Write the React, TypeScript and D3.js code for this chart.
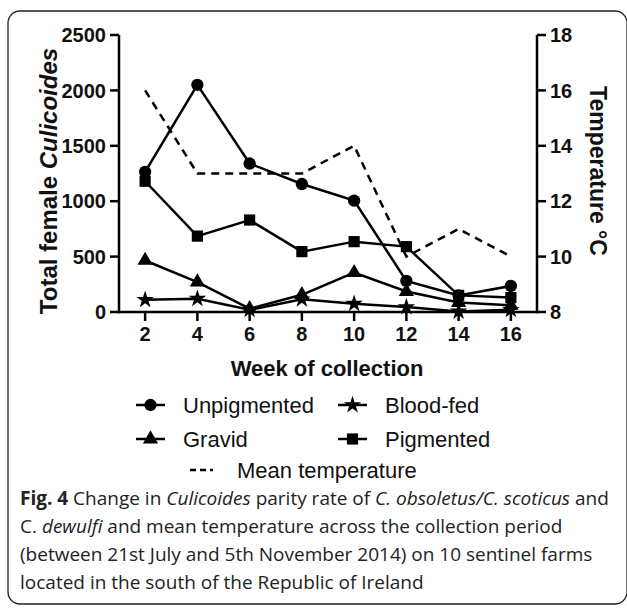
import React from "react";
import * as d3 from "d3";

const weeks = [2, 4, 6, 8, 10, 12, 14, 16];
const unpigmented = [1265, 2050, 1340, 1155, 1005, 280, 150, 235];
const pigmented = [1180, 685, 830, 545, 635, 590, 150, 130];
const gravid = [465, 270, 30, 155, 355, 185, 85, 60];
const bloodFed = [110, 120, 20, 115, 75, 45, 5, 20];
const meanTemp = [16, 13, 13, 13, 14, 10, 11, 10];
const leftTicks = [0, 500, 1000, 1500, 2000, 2500];
const rightTicks = [8, 10, 12, 14, 16, 18];

const W = 627;
const H = 611;
const FONT = "'Liberation Sans', Arial, Helvetica, sans-serif";

export default function App() {
  const x = d3.scaleLinear().domain([1, 17]).range([119, 537]);
  const y = d3.scaleLinear().domain([0, 2500]).range([312, 35]);
  const yT = d3.scaleLinear().domain([8, 18]).range([312, 35]);

  const line = d3
    .line<[number, number]>()
    .x((d) => x(d[0]))
    .y((d) => y(d[1]));
  const tline = d3
    .line<[number, number]>()
    .x((d) => x(d[0]))
    .y((d) => yT(d[1]));

  const zip = (v: number[]) => weeks.map((w, i) => [w, v[i]] as [number, number]);

  const circle = d3.symbol(d3.symbolCircle, 120)()!;
  const square = d3.symbol(d3.symbolSquare, 125)()!;
  const triangle = d3.symbol(d3.symbolTriangle, 100)()!;
  const star = d3.symbol(d3.symbolStar, 95)()!;

  const series = [
    { vals: bloodFed, sym: star },
    { vals: gravid, sym: triangle },
    { vals: pigmented, sym: square },
    { vals: unpigmented, sym: circle },
  ];

  const legend = [
    { label: "Unpigmented", sym: circle, lx: 136, ly: 405 },
    { label: "Blood-fed", sym: star, lx: 338, ly: 405 },
    { label: "Gravid", sym: triangle, lx: 136, ly: 439 },
    { label: "Pigmented", sym: square, lx: 338, ly: 439 },
  ];

  return (
    <svg
      width={W}
      height={H}
      style={{ position: "absolute", left: 0, top: 0, background: "#fff" }}
    >
      <rect x={0} y={0} width={W} height={H} fill="#fff" />
      <rect
        x={8}
        y={11}
        width={619}
        height={593}
        rx={12}
        fill="none"
        stroke="#222"
        strokeWidth={1.3}
      />
      {/* axes */}
      <g stroke="#000" strokeWidth={2.5} fill="none">
        <line x1={119} x2={119} y1={y(2500)} y2={y(0) + 1.25} />
        <line x1={537} x2={537} y1={yT(18)} y2={yT(8) + 1.25} />
        <line x1={119} x2={537} y1={312} y2={312} />
        {leftTicks.map((t) => (
          <line key={"l" + t} x1={110} x2={119} y1={y(t)} y2={y(t)} />
        ))}
        {rightTicks.map((t) => (
          <line key={"r" + t} x1={537} x2={546} y1={yT(t)} y2={yT(t)} />
        ))}
        {weeks.map((w) => (
          <line key={"b" + w} x1={x(w)} x2={x(w)} y1={312} y2={321} />
        ))}
      </g>
      <g fontFamily={FONT} fontWeight="bold" fontSize={20} fill="#111">
        {leftTicks.map((t) => (
          <text key={"lt" + t} x={106} y={y(t)} dy="0.36em" textAnchor="end">
            {t}
          </text>
        ))}
        {rightTicks.map((t) => (
          <text key={"rt" + t} x={550} y={yT(t)} dy="0.36em" textAnchor="start">
            {t}
          </text>
        ))}
        {weeks.map((w) => (
          <text key={"bt" + w} x={x(w)} y={341} textAnchor="middle">
            {w}
          </text>
        ))}
      </g>
      {/* axis titles */}
      <text
        x={327}
        y={376}
        textAnchor="middle"
        fontFamily={FONT}
        fontWeight="bold"
        fontSize={22}
        fill="#111"
      >
        Week of collection
      </text>
      <text
        transform="translate(57,181) rotate(-90)"
        textAnchor="middle"
        fontFamily={FONT}
        fontWeight="bold"
        fontSize={24}
        fill="#111"
      >
        Total female <tspan fontStyle="italic">Culicoides</tspan>
      </text>
      <text
        transform="translate(590,171) rotate(90)"
        textAnchor="middle"
        fontFamily={FONT}
        fontWeight="bold"
        fontSize={23}
        fill="#111"
      >
        Temperature °C
      </text>
      {/* temperature */}
      <path
        d={tline(zip(meanTemp))!}
        fill="none"
        stroke="#000"
        strokeWidth={2.5}
        strokeDasharray="8,6"
      />
      {series.map((s, i) => (
        <g key={i}>
          <path d={line(zip(s.vals))!} fill="none" stroke="#000" strokeWidth={2.5} />
          {s.vals.map((v, j) => (
            <path
              key={j}
              d={s.sym}
              transform={`translate(${x(weeks[j])},${y(v)})`}
              fill="#000"
            />
          ))}
        </g>
      ))}
      {/* legend */}
      {legend.map((l) => (
        <g key={l.label}>
          <line x1={l.lx} x2={l.lx + 29} y1={l.ly} y2={l.ly} stroke="#000" strokeWidth={2.5} />
          <path d={l.sym} transform={`translate(${l.lx + 14.5},${l.ly})`} fill="#000" />
          <text
            x={l.lx + 47}
            y={l.ly}
            dy="0.36em"
            fontFamily={FONT}
            fontSize={22}
            fill="#111"
          >
            {l.label}
          </text>
        </g>
      ))}
      <line
        x1={190}
        x2={213}
        y1={470}
        y2={470}
        stroke="#000"
        strokeWidth={2.5}
        strokeDasharray="6,4"
      />
      <text x={237} y={470} dy="0.36em" fontFamily={FONT} fontSize={22} fill="#111">
        Mean temperature
      </text>
      {/* caption */}
      <g fontFamily="'Open Sans', 'Noto Sans', sans-serif" fontSize={19} fill="#222">
        <text x={20} y={505}>
          <tspan fontWeight="bold">Fig. 4</tspan> Change in{" "}
          <tspan fontStyle="italic">Culicoides</tspan> parity rate of{" "}
          <tspan fontStyle="italic">C. obsoletus/C. scoticus</tspan> and
        </text>
        <text x={20} y={533}>
          C. <tspan fontStyle="italic">dewulfi</tspan> and mean temperature across the collection period
        </text>
        <text x={20} y={561}>
          (between 21st July and 5th November 2014) on 10 sentinel farms
        </text>
        <text x={20} y={589}>
          located in the south of the Republic of Ireland
        </text>
      </g>
    </svg>
  );
}
